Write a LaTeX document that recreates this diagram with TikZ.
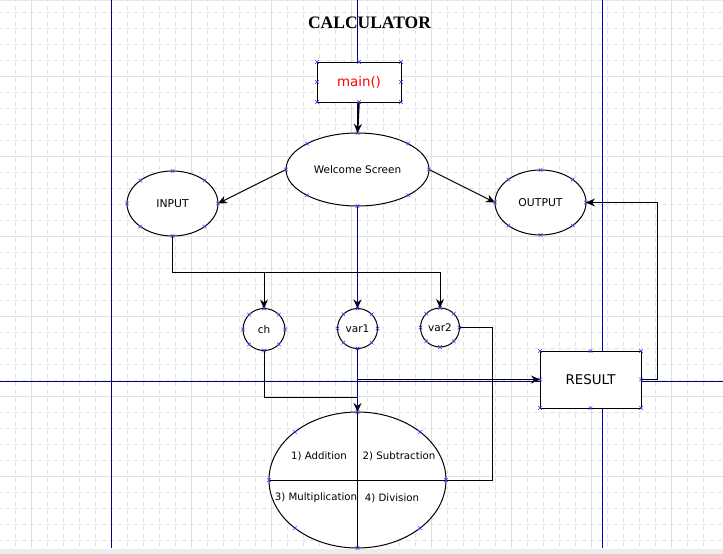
\documentclass[tikz,border=0pt]{standalone}
\usepackage{fontspec}
\setmainfont{DejaVu Sans}
\newfontfamily\titlefont{Liberation Serif}
\usetikzlibrary{shapes.geometric,arrows.meta,calc}
\pgfdeclarelayer{gridlayer}
\pgfdeclarelayer{connlayer}
\pgfdeclarelayer{guidelayer}
\pgfdeclarelayer{toplayer}
\pgfsetlayers{gridlayer,connlayer,guidelayer,toplayer,main}
\definecolor{gridc}{RGB}{214,228,228}
\definecolor{guidenavy}{RGB}{0,0,128}
\definecolor{guideblue}{RGB}{0,0,180}
\definecolor{cpblue}{RGB}{50,50,255}
\newcommand\cpoints[1]{\foreach \a in {north,south,east,west,north east,north west,south east,south west}{\pic at (#1.\a) {cpx};}}
\tikzset{
  cpx/.pic={\draw[cpblue,line width=0.5pt] (-1.8,-1.8)--(1.8,1.8) (-1.8,1.8)--(1.8,-1.8);},
  dshape/.style={draw=black, fill=white, line width=1pt, inner sep=0pt, outer sep=0pt},
  ell/.style={dshape, ellipse},
  circ/.style={dshape, circle},
  dbox/.style={dshape, rectangle},
  conn/.style={draw=black, line width=1pt},
  arr/.style={conn, -{Stealth[length=9pt,width=8pt]}},
  minorgrid/.style={gridc, line width=1pt, dash pattern=on 4pt off 4pt, dash phase=2pt},
  majorgrid/.style={gridc, line width=1pt},
  guide/.style={guidenavy, line width=1pt},
  lbl/.style={font=\fontsize{10.5}{12}\selectfont},
  oplbl/.style={font=\fontsize{10.2}{12}\selectfont}
}
\begin{document}
\begin{tikzpicture}[x=1pt,y=-1pt]
\useasboundingbox (0,0) rectangle (723,554);
\begin{pgfonlayer}{gridlayer}
  \fill[white] (0,0) rectangle (723,554);
  \foreach \x in {15.5,31.5,...,711.5} \draw[minorgrid] (\x,0) -- (\x,548);
  \foreach \y in {12.5,28.5,...,540.5} \draw[minorgrid] (0,\y) -- (723,\y);
  \foreach \x in {31.5,111.5,...,671.5} \draw[majorgrid] (\x,0) -- (\x,548);
  \foreach \y in {76.5,156.5,...,476.5} \draw[majorgrid] (0,\y) -- (723,\y);
  \fill[black!7] (0,548.5) rectangle (723,554);
  \draw[black!9, line width=1pt] (0,0.5) -- (723,0.5);
\end{pgfonlayer}

% shapes
\node[dbox, minimum width=84pt, minimum height=40pt, font=\fontsize{13.4}{15}\selectfont, text=red] (main) at (359,82) {main()};
\node[ell, minimum width=143pt, minimum height=73pt, lbl] (welcome) at (357.5,169.5) {Welcome Screen};
\node[ell, minimum width=91pt, minimum height=65pt, font=\fontsize{10.8}{12}\selectfont] (input) at (172.5,203.5) {INPUT};
\node[ell, minimum width=91pt, minimum height=65pt, font=\fontsize{10.8}{12}\selectfont] (output) at (540.5,202.5) {OUTPUT};
\node[circ, minimum size=42pt, lbl] (ch) at (264,329.5) {ch};
\node[circ, minimum size=40pt, lbl] (var1) at (357.5,328.5) {var1};
\node[circ, minimum size=39pt, lbl] (var2) at (440,327.5) {var2};
\node[ell, minimum width=177pt, minimum height=136pt] (ops) at (357.5,480) {};
\node[dbox, minimum width=101pt, minimum height=57pt, font=\fontsize{13.4}{15}\selectfont] (result) at (590.5,379.5) {RESULT};
\draw[conn] (ops.north) -- (ops.south);
\draw[conn] (ops.west) -- (ops.east);
\node[oplbl] (op1) at (319,456) {1) Addition};
\node[oplbl] (op2) at (399,456) {2) Subtraction};
\node[oplbl] (op3) at (316,498) {3) Multiplication};
\node[oplbl] (op4) at (392,498) {4) Division};

\node[font=\titlefont\bfseries\fontsize{17.5}{20}\selectfont] (title) at (369.5,23) {CALCULATOR};

\cpoints{main}
\cpoints{welcome}
\cpoints{input}
\cpoints{output}
\cpoints{ch}
\cpoints{var1}
\cpoints{var2}
\cpoints{ops}
\cpoints{result}

\coordinate (bus) at (0,272.5);
\coordinate (chbus) at (0,397.5);
\coordinate (rv) at (492.5,327);
\coordinate (ro) at (657.5,0);

\begin{pgfonlayer}{connlayer}
  \draw[arr] (welcome.west) -- (input.east);
  \draw[arr] (welcome.east) -- (output.west);
  \draw[arr] (welcome.south) -- (var1.north);
  \draw[arr] (input.south) |- (ch.north |- bus) -- (ch.north);
  \draw[arr] (input.south) |- (var2.north |- bus) -- (var2.north);
  \draw[arr] (ch.south) |- (ops.north |- chbus) -- (ops.north);
  \draw[arr] (var1.south) |- (result.west);
  \draw[conn] (var2.east) -- (var2.east -| rv) |- (ops.east);
  \draw[arr] (result.east) -| (ro |- output.east) -- (output.east);
\end{pgfonlayer}

\begin{pgfonlayer}{guidelayer}
  \draw[guide] (111.5,0) -- (111.5,548);
  \draw[guide] (357.5,0) -- (357.5,548);
  \draw[guide, guideblue] (602.5,0) -- (602.5,548);
  \draw[guide] (0,381.5) -- (723,381.5);
\end{pgfonlayer}

\begin{pgfonlayer}{toplayer}
  \draw[arr, line width=1.6pt] (main.south) -- (welcome.north);
\end{pgfonlayer}
\end{tikzpicture}
\end{document}
